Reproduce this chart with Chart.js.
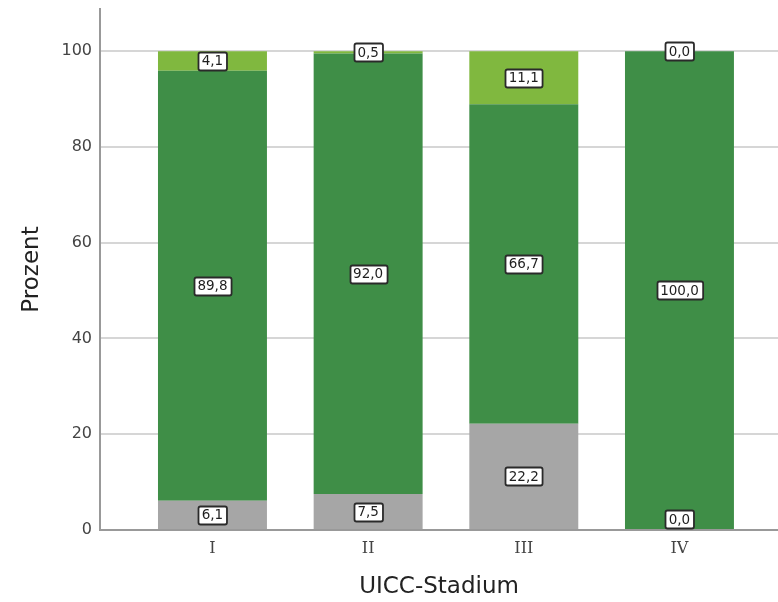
<!DOCTYPE html>
<html>
<head>
<meta charset="utf-8">
<script src="https://cdn.jsdelivr.net/npm/chart.js@4"></script>
<style>
  html, body { margin: 0; padding: 0; background: #fff; }
  #wrap { width: 778px; height: 602px; position: relative; }
</style>
</head>
<body>
<div id="wrap"><canvas id="c" width="778" height="602"></canvas></div>
<script>
const categories = ['I', 'II', 'III', 'IV'];
const greyValues = [6.1, 7.5, 22.2, 0.0];
const darkGreenValues = [89.8, 92.0, 66.7, 100.0];
const lightGreenValues = [4.1, 0.5, 11.1, 0.0];
const yTicks = [0, 20, 40, 60, 80, 100];

const toPoints = arr => arr.map((v, i) => ({ x: i, y: v }));

const labelPlugin = {
  id: 'boxLabels',
  afterDatasetsDraw(chart) {
    const ctx = chart.ctx;
    const area = chart.chartArea;
    ctx.save();
    ctx.font = '13.5px "DejaVu Sans", Verdana, sans-serif';
    ctx.textAlign = 'center';
    ctx.textBaseline = 'middle';
    chart.data.datasets.forEach((ds, di) => {
      const meta = chart.getDatasetMeta(di);
      meta.data.forEach((el, i) => {
        const v = ds.data[i].y;
        const txt = v.toFixed(1).replace('.', ',');
        let cy = (el.y + el.base) / 2;
        cy = Math.min(cy, area.bottom - 11);
        const cx = el.x;
        const w = ctx.measureText(txt).width + 7;
        const h = 18;
        const x0 = Math.round(cx - w / 2) + 0.5, y0 = Math.round(cy - h / 2) + 0.5;
        ctx.beginPath();
        if (ctx.roundRect) ctx.roundRect(x0, y0, w, h, 2); else ctx.rect(x0, y0, w, h);
        ctx.fillStyle = '#ffffff';
        ctx.fill();
        ctx.lineWidth = 1.8;
        ctx.strokeStyle = '#2a2a2a';
        ctx.stroke();
        ctx.fillStyle = '#1e1e1e';
        ctx.fillText(txt, cx, cy + 1);
      });
    });
    ctx.restore();
  }
};

new Chart(document.getElementById('c'), {
  type: 'bar',
  data: {
    datasets: [
      { label: 'grau', data: toPoints(greyValues), backgroundColor: '#a6a6a6' },
      { label: 'dunkelgrün', data: toPoints(darkGreenValues), backgroundColor: '#3f8e47' },
      { label: 'hellgrün', data: toPoints(lightGreenValues), backgroundColor: '#80b83f' }
    ]
  },
  options: {
    responsive: false,
    animation: false,
    devicePixelRatio: 1,
    layout: { padding: { top: 9, right: 0, left: 0, bottom: 0 } },
    datasets: { bar: { categoryPercentage: 1.0, barPercentage: 0.70, borderWidth: 0 } },
    plugins: { legend: { display: false }, tooltip: { enabled: false } },
    scales: {
      x: {
        type: 'linear',
        stacked: true,
        offset: false,
        min: -0.7225,
        max: 3.633,
        afterBuildTicks: axis => { axis.ticks = categories.map((c, i) => ({ value: i })); },
        afterFit: axis => { axis.height = 72; axis.paddingLeft = 0; axis.paddingRight = 0; },
        ticks: {
          callback: v => categories[v] ?? '',
          font: { family: '"DejaVu Serif", "Liberation Serif", serif', size: 16 },
          color: '#444',
          padding: 9,
          maxRotation: 0,
          autoSkip: false
        },
        grid: { display: false, drawTicks: false, offset: false },
        border: { display: true, color: '#999999', width: 2 },
        title: {
          display: true,
          text: 'UICC-Stadium',
          font: { family: '"DejaVu Sans", Verdana, sans-serif', size: 23 },
          color: '#222',
          padding: { top: 8, bottom: 1 }
        }
      },
      y: {
        stacked: true,
        min: 0,
        max: 108.8,
        afterBuildTicks: axis => { axis.ticks = yTicks.map(v => ({ value: v })); },
        afterFit: axis => { axis.width = 100; axis.paddingTop = 0; axis.paddingBottom = 0; },
        ticks: {
          font: { family: '"DejaVu Sans", Verdana, sans-serif', size: 16 },
          color: '#444',
          padding: 8
        },
        grid: { color: '#d6d6d6', lineWidth: 2, drawTicks: false },
        border: { display: true, color: '#999999', width: 2 },
        title: {
          display: true,
          text: 'Prozent',
          font: { family: '"DejaVu Sans", Verdana, sans-serif', size: 23 },
          color: '#222',
          padding: { top: 18, bottom: 0 }
        }
      }
    }
  },
  plugins: [labelPlugin]
});
</script>
</body>
</html>
